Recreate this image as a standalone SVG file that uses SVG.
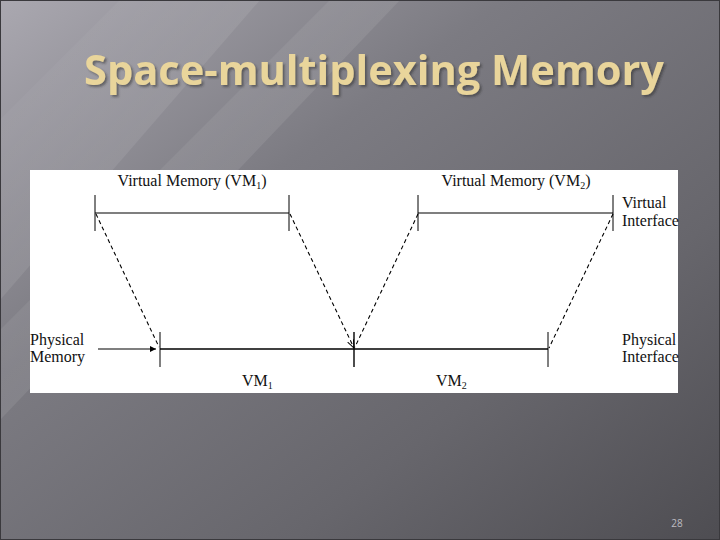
<svg xmlns="http://www.w3.org/2000/svg" width="720" height="540" viewBox="0 0 720 540">
<defs>
<linearGradient id="bg" x1="0" y1="0" x2="1" y2="1">
<stop offset="0" stop-color="#aaa8b0"/>
<stop offset="0.35" stop-color="#7c7b82"/>
<stop offset="0.7" stop-color="#67666c"/>
<stop offset="1" stop-color="#4e4d52"/>
</linearGradient>
<linearGradient id="streak" x1="0" y1="0" x2="1" y2="1">
<stop offset="0" stop-color="#ffffff" stop-opacity="0"/>
<stop offset="0.5" stop-color="#ffffff" stop-opacity="0.08"/>
<stop offset="1" stop-color="#ffffff" stop-opacity="0"/>
</linearGradient>
<filter id="shadow" x="-5%" y="-20%" width="110%" height="150%">
<feDropShadow dx="2" dy="2" stdDeviation="1" flood-color="#2a2925" flood-opacity="0.5"/>
</filter>
<marker id="arr" viewBox="0 0 10 10" refX="10" refY="5" markerWidth="8" markerHeight="6" markerUnits="userSpaceOnUse" orient="auto">
<path d="M0,0 L10,5 L0,10 z" fill="#000"/>
</marker>
<marker id="arrOpen" viewBox="0 0 10 10" refX="10" refY="5" markerWidth="8" markerHeight="8" markerUnits="userSpaceOnUse" orient="auto">
<path d="M0,1 L10,5 L0,9" fill="none" stroke="#000" stroke-width="1.2"/>
</marker>
</defs>
<style>
.t{font-family:"Liberation Serif","Times New Roman",serif;font-size:16px;fill:#111}
.s{font-size:10px}
.solid{stroke:#000;stroke-width:1.1;fill:none}
.thick{stroke:#000;stroke-width:1.5;fill:none}
.tick{stroke:#000;stroke-width:1;fill:none}
.dash{stroke:#000;stroke-width:1.1;stroke-dasharray:4,3;fill:none}
.title{font-family:"Open Sans","Noto Sans","DejaVu Sans",sans-serif;font-weight:bold;font-size:41px;fill:#e9d59b}
</style>
<rect x="0" y="0" width="720" height="540" fill="url(#bg)"/>
<polygon points="0,120 120,0 260,0 0,300" fill="url(#streak)"/>
<polygon points="0,330 330,0 400,0 0,420" fill="url(#streak)"/>
<rect x="0.5" y="0.5" width="719" height="539" fill="none" stroke="#3a393d" stroke-width="1"/>
<g id="title">
<text x="84" y="85" class="title" textLength="580" lengthAdjust="spacingAndGlyphs" filter="url(#shadow)">Space-multiplexing Memory</text>
</g>
<rect id="panel" x="30" y="170" width="648" height="223" fill="#ffffff"/>
<g id="vm1-virtual">
<line class="solid" x1="95" y1="213" x2="289" y2="213"/>
<line class="tick" x1="95" y1="195" x2="95" y2="231"/>
<line class="tick" x1="289" y1="195" x2="289" y2="231"/>
<text class="t" x="192" y="186" text-anchor="middle">Virtual Memory (VM<tspan class="s" dy="3">1</tspan><tspan dy="-3">)</tspan></text>
</g>
<g id="vm2-virtual">
<line class="solid" x1="418" y1="213" x2="613" y2="213"/>
<line class="tick" x1="418" y1="195" x2="418" y2="231"/>
<line class="tick" x1="613" y1="195" x2="613" y2="231"/>
<text class="t" x="516" y="186" text-anchor="middle">Virtual Memory (VM<tspan class="s" dy="3">2</tspan><tspan dy="-3">)</tspan></text>
</g>
<g id="virtual-interface">
<text class="t" x="622" y="208">Virtual</text>
<text class="t" x="622" y="226">Interface</text>
</g>
<g id="physical-memory">
<line class="thick" x1="160" y1="349" x2="548" y2="349"/>
<line class="tick" x1="160" y1="332" x2="160" y2="367"/>
<line class="tick" x1="354" y1="332" x2="354" y2="367" style="stroke-width:1.4"/>
<line class="tick" x1="548" y1="332" x2="548" y2="367"/>
<text class="t" x="30" y="345">Physical</text>
<text class="t" x="30" y="362">Memory</text>
<text class="t" x="242" y="386">VM<tspan class="s" dy="3">1</tspan></text>
<text class="t" x="436" y="386">VM<tspan class="s" dy="3">2</tspan></text>
</g>
<g id="physical-interface">
<text class="t" x="622" y="345">Physical</text>
<text class="t" x="622" y="362">Interface</text>
</g>
<g id="connectors">
<line class="solid" x1="98" y1="349" x2="156" y2="349" marker-end="url(#arr)"/>
<line class="dash" x1="96" y1="214" x2="159" y2="347"/>
<line class="dash" x1="290" y1="214" x2="354" y2="348" marker-end="url(#arrOpen)"/>
<line class="dash" x1="418" y1="214" x2="355" y2="347"/>
<line class="dash" x1="613" y1="214" x2="549" y2="348"/>
</g>
<text x="677" y="527" text-anchor="middle" style="font-family:'Open Sans','DejaVu Sans',sans-serif;font-size:10px;fill:#bdbcc2">28</text>
</svg>
